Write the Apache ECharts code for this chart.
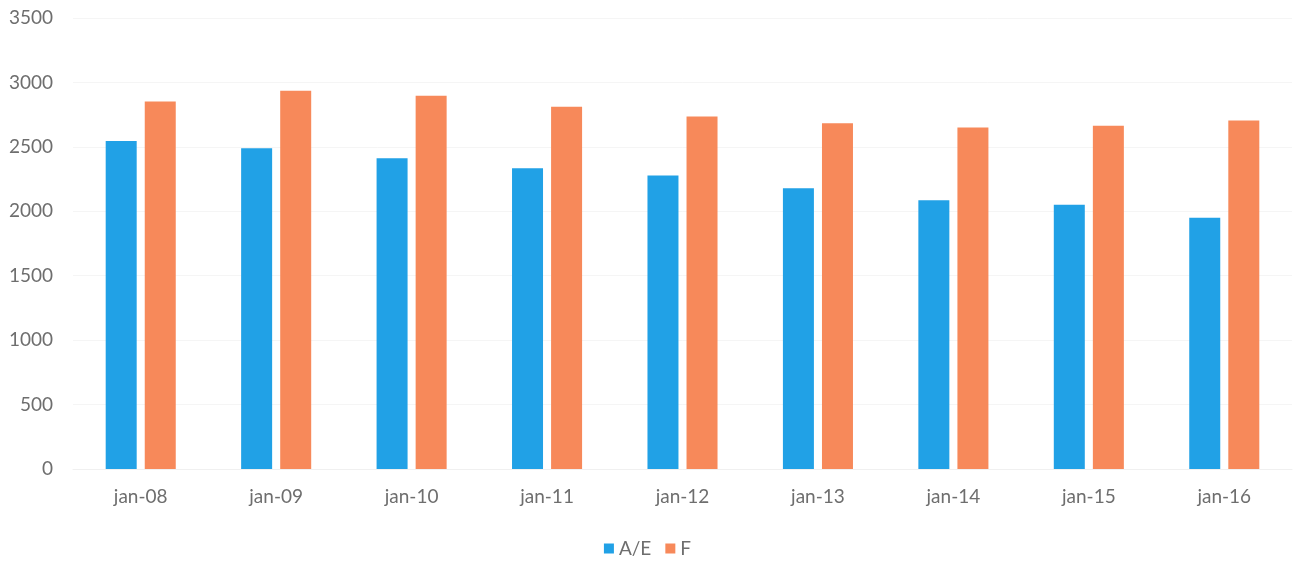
<!DOCTYPE html>
<html>
<head>
<meta charset="utf-8">
<script src="https://cdn.jsdelivr.net/npm/echarts@6/dist/echarts.min.js"></script>
<style>html,body{margin:0;padding:0;background:#fff;}#c{width:1295px;height:562px;}</style>
</head>
<body>
<div id="c"></div>
<script>
const categories = ['jan-08','jan-09','jan-10','jan-11','jan-12','jan-13','jan-14','jan-15','jan-16'];
const seriesAE = [2545, 2490, 2412, 2334, 2277, 2179, 2086, 2050, 1950];
const seriesF = [2852, 2935, 2896, 2811, 2736, 2684, 2650, 2663, 2704];
const seriesNames = ['A/E', 'F'];

const chart = echarts.init(document.getElementById('c'), null, {renderer: 'canvas'});
const font = 'Lato, "Open Sans", sans-serif';
chart.setOption({
  animation: false,
  backgroundColor: '#fff',
  grid: {left: 73, right: 3, top: 18, bottom: 93, containLabel: false},
  legend: {
    data: seriesNames,
    top: 534,
    left: 'center',
    itemWidth: 10,
    itemHeight: 10,
    itemGap: 14,
    icon: 'rect',
    textStyle: {color: '#6e6e6e', fontSize: 19, fontFamily: font}
  },
  xAxis: {
    type: 'category',
    data: categories,
    axisTick: {show: false},
    axisLine: {show: true, lineStyle: {color: '#f0f0f0'}},
    axisLabel: {color: '#6e6e6e', fontSize: 19, fontFamily: font, margin: 18}
  },
  yAxis: {
    type: 'value',
    min: 0, max: 3500, interval: 500,
    axisLine: {show: false},
    axisTick: {show: false},
    splitLine: {lineStyle: {color: '#f5f5f5'}},
    axisLabel: {color: '#6e6e6e', fontSize: 19, fontFamily: font, margin: 20, formatter: v => String(v)}
  },
  series: [
    {name: seriesNames[0], type: 'bar', data: seriesAE, barWidth: 31, barGap: '26%', itemStyle: {color: '#21A1E6'}},
    {name: seriesNames[1], type: 'bar', data: seriesF, barWidth: 31, itemStyle: {color: '#F7895A'}}
  ]
});
</script>
</body>
</html>
